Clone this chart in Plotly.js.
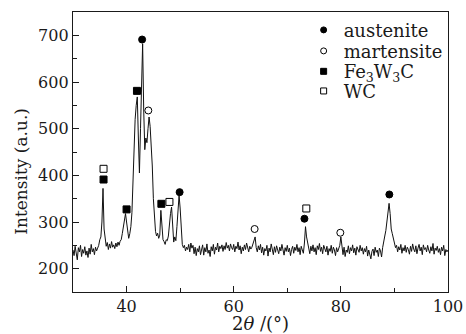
<!DOCTYPE html>
<html>
<head>
<meta charset="utf-8">
<script src="https://cdn.plot.ly/plotly-3.0.1.min.js"></script>
<style>html,body{margin:0;padding:0;background:#fff;}#chart{width:466px;height:334px;}</style>
</head>
<body>
<div id="chart"></div>
<script>
// XRD pattern, 2theta from 30 to 100 in 0.2 degree steps
var twoThetaStart = 30;
var twoThetaStep = 0.2;
var intensity = [
  240, 228, 248, 232, 219, 245, 236, 250, 226, 241,   // 30.0-31.8
  233, 247, 229, 238, 224, 244, 231, 252, 236, 243,   // 32.0-33.8
  230, 246, 238, 244, 250, 262, 268, 300, 372, 285,   // 34.0-35.8
  262, 248, 256, 241, 253, 244, 258, 246, 251, 243,   // 36.0-37.8
  255, 247, 257, 250, 259, 262, 275, 290, 305, 318,   // 38.0-39.8
  300, 280, 265, 275, 290, 320, 390, 460, 520, 550,   // 40.0-41.8
  568, 480, 405, 500, 640, 682, 540, 455, 480, 470,   // 42.0-43.8
  500, 525, 505, 470, 420, 350, 300, 280, 270, 276,   // 44.0-45.8
  265, 272, 325, 290, 262, 258, 252, 262, 260, 270,   // 46.0-47.8
  300, 318, 332, 275, 257, 268, 260, 290, 335, 357,   // 48.0-49.8
  330, 280, 252, 245, 250, 238, 246, 241, 252, 236,   // 50.0-51.8
  255, 244, 250, 232, 246, 228, 243, 236, 249, 230,   // 52.0-53.8
  242, 251, 229, 245, 236, 253, 233, 240, 226, 247,   // 54.0-55.8
  238, 252, 231, 246, 240, 255, 236, 248, 243, 251,   // 56.0-57.8
  237, 249, 241, 256, 244, 250, 238, 253, 245, 241,   // 58.0-59.8
  252, 236, 248, 243, 257, 240, 249, 232, 246, 238,   // 60.0-61.8
  251, 241, 255, 244, 236, 248, 242, 246, 252, 262,   // 62.0-63.8
  268, 245, 236, 249, 240, 252, 234, 246, 229, 243,   // 64.0-65.8
  238, 250, 227, 244, 236, 253, 241, 230, 247, 235,   // 66.0-67.8
  249, 240, 232, 246, 238, 252, 243, 229, 245, 237,   // 68.0-69.8
  250, 236, 244, 228, 241, 248, 233, 246, 239, 252,   // 70.0-71.8
  236, 245, 230, 248, 240, 233, 255, 290, 268, 255,   // 72.0-73.8
  240, 232, 248, 238, 251, 236, 245, 230, 249, 241,   // 74.0-75.8
  254, 237, 246, 232, 250, 241, 236, 248, 229, 243,   // 76.0-77.8
  237, 250, 233, 246, 240, 228, 245, 236, 244, 250,   // 78.0-79.8
  268, 243, 230, 246, 226, 240, 235, 249, 232, 245,   // 80.0-81.8
  238, 251, 234, 244, 229, 247, 240, 235, 250, 238,   // 82.0-83.8
  245, 231, 243, 236, 248, 227, 240, 233, 221, 237,   // 84.0-85.8
  242, 228, 246, 235, 240, 226, 244, 238, 225, 245,   // 86.0-87.8
  262, 270, 282, 305, 330, 340, 318, 285, 275, 266,   // 88.0-89.8
  255, 245, 250, 236, 247, 240, 252, 233, 245, 238,   // 90.0-91.8
  250, 235, 246, 241, 231, 248, 237, 253, 242, 236,   // 92.0-93.8
  249, 232, 244, 252, 238, 246, 230, 251, 241, 245,   // 94.0-95.8
  236, 250, 240, 233, 247, 238, 254, 231, 244, 239,   // 96.0-97.8
  248, 235, 243, 230, 246, 238, 250, 228, 241, 236,   // 98.0-99.8
  240                                                 // 100.0
];

// Phase markers placed above the peaks
var austeniteX = [42.9, 49.9, 73.2, 89.05];
var austeniteY = [691, 364, 307, 359];
var martensiteX = [44.06, 63.9, 79.9];
var martensiteY = [539, 285, 277];
var fe3w3cX = [35.7, 40.0, 41.94, 46.5];
var fe3w3cY = [391, 327, 581, 339];
var wcX = [35.7, 48.0, 73.55];
var wcY = [414, 343, 329];

var phaseNames = ['austenite', 'martensite', 'Fe<sub>3</sub>W<sub>3</sub>C', 'WC'];
var phaseSymbols = ['circle', 'circle-open', 'square', 'square-open'];
var phaseX = [austeniteX, martensiteX, fe3w3cX, wcX];
var phaseY = [austeniteY, martensiteY, fe3w3cY, wcY];
var legendIds = ['legend', 'legend2', 'legend3', 'legend4'];

var xTitle = '2<i>θ</i> /(°)';
var yTitle = 'Intensity (a.u.)';

var FONT = 'DejaVu Serif, Liberation Serif, serif';
var INK = '#1a1a1a';

var traces = [{
  type: 'scatter', mode: 'lines',
  y: intensity, x0: twoThetaStart, dx: twoThetaStep,
  line: {color: '#111', width: 1},
  showlegend: false, hoverinfo: 'skip'
}];

for (var i = 0; i < phaseNames.length; i++) {
  traces.push({
    type: 'scatter', mode: 'markers',
    x: phaseX[i], y: phaseY[i],
    marker: {symbol: phaseSymbols[i], size: 7, color: '#000', line: {color: '#000', width: 1}},
    showlegend: false
  });
}
for (var j = 0; j < phaseNames.length; j++) {
  traces.push({
    type: 'scatter', mode: 'markers',
    x: [null], y: [null], name: phaseNames[j],
    legend: legendIds[j],
    marker: {symbol: phaseSymbols[j], size: 6, color: '#000', line: {color: '#000', width: 1}},
    showlegend: true
  });
}

var axisCommon = {
  showgrid: false, zeroline: false,
  showline: true, linecolor: INK, linewidth: 1.2, mirror: true,
  ticks: 'inside', ticklen: 6, tickwidth: 1, tickcolor: INK,
  tickfont: {family: FONT, size: 16, color: INK}
};

var layout = {
  width: 466, height: 334,
  margin: {l: 73, r: 18, t: 12, b: 42, autoexpand: false},
  paper_bgcolor: '#fff', plot_bgcolor: '#fff',
  font: {family: FONT, color: INK},
  xaxis: Object.assign({}, axisCommon, {
    range: [30, 100], tick0: 0, dtick: 20,
    minor: {dtick: 10, ticks: 'inside', ticklen: 4, tickcolor: INK, tickwidth: 1},
    title: {text: xTitle, font: {family: FONT, size: 18, color: INK}, standoff: 1}
  }),
  yaxis: Object.assign({}, axisCommon, {
    range: [150, 750], tick0: 0, dtick: 100,
    minor: {dtick: 50, ticks: 'inside', ticklen: 4, tickcolor: INK, tickwidth: 1}
  }),
  // y title sits a little below the axis middle in the original, so it is placed as an annotation
  annotations: [{
    text: yTitle, xref: 'paper', yref: 'paper',
    x: -0.141, y: 0.43, xanchor: 'center', yanchor: 'middle',
    textangle: -90, showarrow: false,
    font: {family: FONT, size: 17, color: INK}
  }],
  showlegend: true
};

// one legend box per phase so the rows can sit as close as in the original
var legendRowsY = [0.935, 0.86, 0.787, 0.717];
for (var k = 0; k < legendIds.length; k++) {
  layout[legendIds[k]] = {
    x: 0.615, y: legendRowsY[k], xanchor: 'left', yanchor: 'middle',
    bgcolor: 'rgba(0,0,0,0)', borderwidth: 0,
    font: {family: FONT, size: 18, color: INK},
    itemwidth: 30
  };
}

Plotly.newPlot('chart', traces, layout, {displayModeBar: false, staticPlot: true});
</script>
</body>
</html>
